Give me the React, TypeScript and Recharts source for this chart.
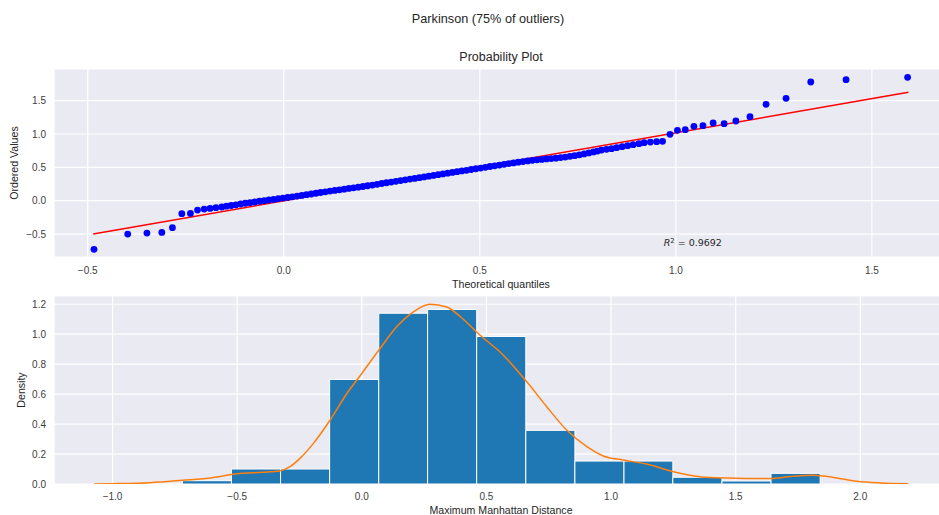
import {
  CartesianGrid,
  ComposedChart,
  Line,
  ReferenceArea,
  ReferenceDot,
  ReferenceLine,
  Scatter,
  XAxis,
  YAxis,
} from 'recharts'

// seaborn "darkgrid" look
const BG = '#EAEAF2'
const INK = '#404040'
const SANS = '"Liberation Sans", Arial, sans-serif'
const MATH = '"DejaVu Sans", sans-serif'

// ---- probability plot (theoretical quantile, ordered value) ----
const qqX = [
  -0.484, -0.398, -0.349, -0.311, -0.284, -0.26, -0.238, -0.22, -0.203, -0.188, -0.173,
  -0.158, -0.146, -0.134, -0.122, -0.11, -0.098, -0.086, -0.074, -0.062, -0.05, -0.038,
  -0.026, -0.014, -0.002, 0.01, 0.022, 0.034, 0.046, 0.058, 0.07, 0.082, 0.094, 0.106,
  0.118, 0.13, 0.142, 0.154, 0.166, 0.178, 0.19, 0.202, 0.214, 0.226, 0.238, 0.25, 0.262,
  0.274, 0.286, 0.298, 0.31, 0.322, 0.334, 0.346, 0.358, 0.37, 0.382, 0.394, 0.406, 0.418,
  0.43, 0.442, 0.454, 0.466, 0.478, 0.49, 0.502, 0.514, 0.526, 0.538, 0.55, 0.562, 0.574,
  0.586, 0.598, 0.61, 0.622, 0.634, 0.646, 0.658, 0.67, 0.682, 0.694, 0.706, 0.718, 0.73,
  0.742, 0.754, 0.766, 0.778, 0.79, 0.8, 0.81, 0.823, 0.836, 0.849, 0.863, 0.877, 0.891,
  0.906, 0.919, 0.935, 0.951, 0.966, 0.985, 1.004, 1.024, 1.046, 1.069, 1.095, 1.123,
  1.153, 1.189, 1.23, 1.281, 1.344, 1.434, 1.591,
]
const qqY = [
  -0.729, -0.5, -0.485, -0.475, -0.405, -0.195, -0.19, -0.14, -0.125, -0.115, -0.105,
  -0.094, -0.082, -0.072, -0.061, -0.049, -0.038, -0.029, -0.019, -0.008, 0.001, 0.011,
  0.02, 0.031, 0.04, 0.05, 0.059, 0.07, 0.08, 0.09, 0.101, 0.112, 0.123, 0.134, 0.144,
  0.154, 0.163, 0.173, 0.184, 0.194, 0.203, 0.213, 0.224, 0.235, 0.246, 0.258, 0.269,
  0.28, 0.29, 0.302, 0.313, 0.324, 0.334, 0.346, 0.357, 0.368, 0.379, 0.391, 0.402, 0.413,
  0.424, 0.435, 0.446, 0.456, 0.468, 0.479, 0.49, 0.501, 0.513, 0.523, 0.534, 0.545, 0.557,
  0.567, 0.578, 0.587, 0.597, 0.605, 0.613, 0.619, 0.626, 0.632, 0.638, 0.647, 0.655,
  0.665, 0.675, 0.688, 0.702, 0.717, 0.732, 0.745, 0.76, 0.77, 0.78, 0.795, 0.81, 0.825,
  0.84, 0.855, 0.87, 0.88, 0.885, 0.89, 0.995, 1.055, 1.065, 1.115, 1.125, 1.165, 1.155,
  1.195, 1.26, 1.445, 1.535, 1.78, 1.815, 1.85,
]
const fitLine = [
  { x: -0.486, y: -0.5 },
  { x: 1.593, y: 1.625 },
]
const R2 = '0.9692'

// ---- histogram (density) + kde ----
const binEdges = [
  -0.72, -0.523, -0.326, -0.129, 0.068, 0.264, 0.461, 0.658, 0.855, 1.052, 1.248, 1.445,
  1.642, 1.839,
]
const binHeights = [0.022, 0.1, 0.1, 0.698, 1.14, 1.165, 0.985, 0.358, 0.153, 0.153, 0.045, 0.02, 0.071]

const kdeX = [
  -1.074, -1.0, -0.85, -0.72, -0.6, -0.5, -0.4, -0.33, -0.288, -0.248, -0.194, -0.127,
  -0.06, 0.0, 0.068, 0.14, 0.207, 0.274, 0.341, 0.4, 0.475, 0.568, 0.662, 0.742, 0.822,
  0.903, 0.969, 1.049, 1.143, 1.25, 1.357, 1.464, 1.638, 1.72, 1.811, 1.892, 1.986, 2.079,
  2.193,
]
const kdeY = [
  0.0, 0.002, 0.009, 0.025, 0.042, 0.068, 0.078, 0.087, 0.116, 0.171, 0.271, 0.427, 0.604,
  0.738, 0.893, 1.049, 1.149, 1.2, 1.182, 1.11, 0.993, 0.86, 0.682, 0.516, 0.36, 0.249,
  0.187, 0.16, 0.133, 0.082, 0.049, 0.04, 0.036, 0.05, 0.058, 0.044, 0.018, 0.007, 0.002,
]

const qqTicksX = [-0.5, 0, 0.5, 1, 1.5]
const qqTicksY = [-0.5, 0, 0.5, 1, 1.5]
const histTicksX = [-1, -0.5, 0, 0.5, 1, 1.5, 2]
const histTicksY = [0, 0.2, 0.4, 0.6, 0.8, 1.0, 1.2]

const fmt = (v: number) => v.toFixed(1).replace('-', '\u2212')
const tick = { fontSize: 10, fill: INK, fontFamily: SANS }

function Text({ x, y, size, rotate, children }: { x: number; y: number; size: number; rotate?: boolean; children: string }) {
  return (
    <div
      style={{
        position: 'absolute',
        left: x,
        top: y,
        transform: `translate(-50%, -50%)${rotate ? ' rotate(-90deg)' : ''}`,
        fontFamily: SANS,
        fontSize: size,
        color: '#262626',
        whiteSpace: 'nowrap',
        lineHeight: 1,
      }}
    >
      {children}
    </div>
  )
}

export default function App() {
  const qq = qqX.map((x, i) => ({ x, y: qqY[i] }))
  const kde = kdeX.map((x, i) => ({ x, y: kdeY[i] }))

  return (
    <div style={{ position: 'absolute', left: 0, top: 0, width: 939, height: 515, overflow: 'hidden', background: '#fff' }}>
      <Text x={488} y={19} size={12.7}>Parkinson (75% of outliers)</Text>
      <Text x={501} y={57} size={12.5}>Probability Plot</Text>

      {/* probability plot */}
      <div style={{ position: 'absolute', left: 0, top: 0 }}>
        <ComposedChart width={948} height={290} margin={{ top: 69, right: 0, bottom: 0, left: 0 }}>
          <CartesianGrid fill={BG} stroke="#fff" strokeWidth={1.2} />
          <XAxis
            type="number"
            dataKey="x"
            domain={[-0.586, 1.694]}
            ticks={qqTicksX}
            tickFormatter={fmt}
            allowDataOverflow
            height={33}
            tickLine={false}
            axisLine={false}
            tickMargin={4}
            tick={tick}
          />
          <YAxis
            type="number"
            dataKey="y"
            domain={[-0.844, 1.975]}
            ticks={qqTicksY}
            tickFormatter={fmt}
            allowDataOverflow
            width={54}
            tickLine={false}
            axisLine={false}
            tick={tick}
          />
          <Scatter
            data={qq}
            isAnimationActive={false}
            shape={(p: any) => <circle cx={p.cx} cy={p.cy} r={3.4} fill="#0000ff" />}
          />
          <ReferenceLine segment={fitLine} stroke="#ff0000" strokeWidth={1.5} />
          <ReferenceDot
            x={0.969}
            y={-0.634}
            r={0}
            shape={(p: any) => (
              <text x={p.cx} y={p.cy} dy="0.35em" fontFamily={MATH} fontSize={9.5} fill="#262626">
                <tspan fontStyle="italic">R</tspan>
                <tspan fontSize={6.8} dy="-0.45em">2</tspan>
                <tspan dy="0.3em">{' = ' + R2}</tspan>
              </text>
            )}
          />
        </ComposedChart>
      </div>
      <Text x={501} y={284} size={10.6}>Theoretical quantiles</Text>
      <Text x={14} y={163} size={10.6} rotate>Ordered Values</Text>

      {/* histogram + kde */}
      <div style={{ position: 'absolute', left: 0, top: 290 }}>
        <ComposedChart width={948} height={225} margin={{ top: 6, right: 0, bottom: 0, left: 0 }}>
          <CartesianGrid fill={BG} stroke="#fff" strokeWidth={1.2} />
          <XAxis
            type="number"
            dataKey="x"
            domain={[-1.235, 2.352]}
            ticks={histTicksX}
            tickFormatter={fmt}
            allowDataOverflow
            height={31}
            tickLine={false}
            axisLine={false}
            tickMargin={3}
            tick={tick}
          />
          <YAxis
            type="number"
            dataKey="y"
            domain={[0, 1.255]}
            ticks={histTicksY}
            tickFormatter={fmt}
            allowDataOverflow
            width={54}
            tickLine={false}
            axisLine={false}
            tick={tick}
          />
          {binHeights.map((h, i) => (
            <ReferenceArea
              key={i}
              x1={binEdges[i]}
              x2={binEdges[i + 1]}
              y1={0}
              y2={h}
              fill="#1f77b4"
              fillOpacity={1}
              stroke="#ffffff"
              strokeWidth={1}
            />
          ))}
          <Line
            data={kde}
            dataKey="y"
            type="monotone"
            stroke="#ff7f0e"
            strokeWidth={1.5}
            dot={false}
            isAnimationActive={false}
          />
        </ComposedChart>
      </div>
      <Text x={501} y={510} size={10.6}>Maximum Manhattan Distance</Text>
      <Text x={21} y={390} size={10.6} rotate>Density</Text>
    </div>
  )
}
